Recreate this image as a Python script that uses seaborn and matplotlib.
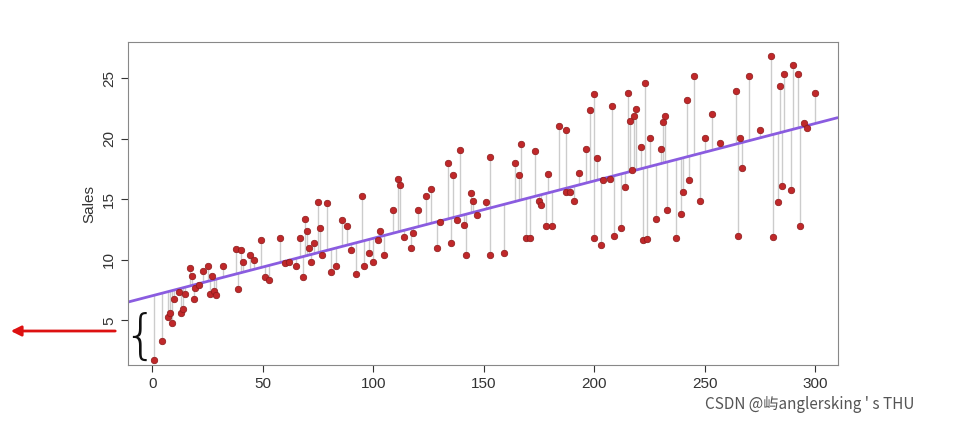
import matplotlib
matplotlib.use("Agg")
import matplotlib.pyplot as plt
import seaborn as sns
import numpy as np
import pandas as pd

tv = [1,4.5,7,8,9,10,12,13,14,15,17,18,19,19.5,21,23,25,26,27,28,29,32,38,40,39,41,44,46,49,51,53,58,60,62,65,67,68,69,70,71,72,73,75,76,77,79,81,83,86,88,90,92,95,96,98,100,102,103,105,109,111,112,114,117,118,120,124,126,129,130,134,135,136,138,139,141,142,144,145,147,151,153,153,159,164,166,167,169,171,173,175,176,178,179,181,184,187,187,189,191,193,196,198,200,200,201,203,204,207,208,209,212,214,215,216,217,218,219,221,222,223,224,225,228,230,231,232,233,237,239,240,242,243,245,248,250,253,257,264,265,266,267,270,275,280,281,283,284,285,286,289,290,292,293,295,296,300]
sales = [1.7,3.3,5.3,5.6,4.8,6.8,7.3,5.6,5.9,7.2,9.3,8.7,6.8,7.7,7.9,9.1,9.5,7.2,8.7,7.4,7.1,9.5,10.9,10.8,7.6,9.8,10.4,10,11.6,8.6,8.3,11.8,9.7,9.8,9.5,11.8,8.6,13.4,12.4,11,9.8,11.4,14.8,12.6,10.4,14.7,9,9.5,13.3,12.8,10.8,8.8,15.3,9.5,10.6,9.8,11.6,12.4,10.4,14.1,16.7,16.2,11.9,11,12.2,14.1,15.3,15.9,11,13.1,18,11.4,17,13.3,19.1,12.9,10.4,15.5,14.9,13.7,14.8,10.4,18.5,10.6,18,17,19.6,11.8,11.8,19,14.9,14.5,12.8,17.1,12.8,21.1,20.7,15.6,15.6,14.9,17.2,19.2,22.4,11.8,23.7,18.4,11.2,16.6,16.7,22.7,12,12.6,16,23.8,21.5,17.4,21.9,22.5,19.3,11.6,24.6,11.7,20.1,13.4,19.2,21.4,21.9,14.1,11.8,13.8,15.6,23.2,16.6,25.2,14.9,20.1,22.1,19.7,24,12,20.1,17.6,25.2,20.7,26.9,11.9,14.8,24.4,16.1,25.4,15.8,26.1,25.4,12.8,21.3,20.9,23.8]

df = pd.DataFrame({"TV": tv, "Sales": sales})
b0, b1 = 7.03, 0.0475

sns.set_style("white")
plt.rcParams["font.family"] = ["Liberation Sans", "DejaVu Sans"]
fig = plt.figure(figsize=(9.55, 4.22), dpi=100)
ax = fig.add_axes([0.134, 0.135, 0.743, 0.765])

fit = b0 + b1 * df["TV"]
ax.vlines(df["TV"], fit, df["Sales"], color="#cccccc", lw=1, zorder=1)
xs = np.array([-11, 310])
ax.plot(xs, b0 + b1 * xs, color="#8a5ce0", lw=2, zorder=2)
sns.scatterplot(data=df, x="TV", y="Sales", ax=ax, color="#c0282a", edgecolor="#8a1a1a",
                s=22, linewidth=0.5, zorder=3)

ax.set_xlim(-11, 310)
ax.set_ylim(1.3, 28)
ax.set_xticks([0, 50, 100, 150, 200, 250, 300])
ax.set_yticks([5, 10, 15, 20, 25])
ax.set_xlabel("")
ax.set_ylabel("Sales", fontsize=11, color="#333")
ax.tick_params(axis="both", labelsize=11, colors="#333", length=5, direction="out")
ax.tick_params(axis="both", bottom=True, left=True)
for lab in ax.get_yticklabels():
    lab.set_rotation(90)
    lab.set_va("center")
for s in ax.spines.values():
    s.set_color("#888")

# brace and arrow
ax.text(-5.5, 3.5, "{", fontsize=38, ha="center", va="center", fontweight="light",
        family="DejaVu Sans", color="#111", clip_on=False)
fig.add_artist(matplotlib.patches.FancyArrowPatch((118/955, 1-331/422), (8/955, 1-331/422),
               transform=fig.transFigure, arrowstyle="-|>", mutation_scale=15, color="#dd1111", lw=2))
fig.text(0.738, 0.03, "CSDN @屿anglersking ' s THU", fontsize=11, color="#555",
         family=["Noto Sans CJK SC", "DejaVu Sans"])
fig.savefig("out.png", dpi=100)
